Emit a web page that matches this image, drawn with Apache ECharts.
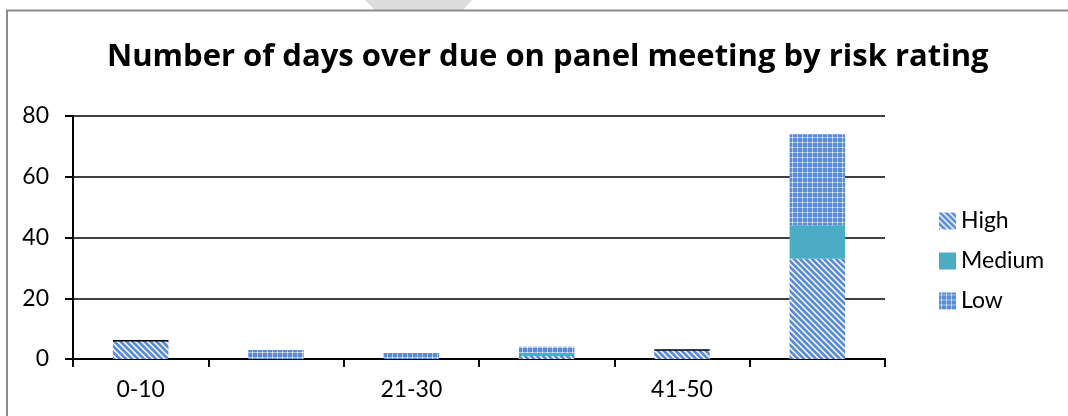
<!DOCTYPE html>
<html>
<head>
<meta charset="utf-8">
<script src="https://cdn.jsdelivr.net/npm/echarts@6/dist/echarts.min.js"></script>
<style>
html,body{margin:0;padding:0;background:#fff;}
#chart{width:1068px;height:416px;}
</style>
</head>
<body>
<div id="chart"></div>
<script>
var categories = ['0-10', '11-20', '21-30', '31-40', '41-50', '51+'];
var highValues = [6, 0, 0, 1, 3, 33];
var mediumValues = [0, 0, 0, 1, 0, 11];
var lowValues = [0, 3, 2, 2, 0, 30];
var yTicks = { min: 0, max: 80, interval: 20 };
var titleText = 'Number of days over due on panel meeting by risk rating';

var BLUE = [88, 140, 216];
function makeTile(size, fn) {
  var c = document.createElement('canvas');
  c.width = size; c.height = size;
  var ctx = c.getContext('2d');
  var img = ctx.createImageData(size, size);
  for (var y = 0; y < size; y++) {
    for (var x = 0; x < size; x++) {
      var t = fn(x, y); // 0 = blue, 1 = white
      var i = (y * size + x) * 4;
      img.data[i] = Math.round(BLUE[0] + (255 - BLUE[0]) * t);
      img.data[i + 1] = Math.round(BLUE[1] + (255 - BLUE[1]) * t);
      img.data[i + 2] = Math.round(BLUE[2] + (255 - BLUE[2]) * t);
      img.data[i + 3] = 255;
    }
  }
  ctx.putImageData(img, 0, 0);
  return c;
}
var stripeTile = makeTile(6, function (x, y) {
  var d = ((x - y) % 6 + 6) % 6;
  return d < 3 ? 0 : (d === 3 || d === 5 ? 0.55 : 1);
});
var dotTile = makeTile(5, function (x, y) {
  if (x === 2 && y === 2) return 1;
  if (x === 2 || y === 2) return 0.5;
  return 0;
});
var highColor = { image: stripeTile, repeat: 'repeat' };
var lowColor = { image: dotTile, repeat: 'repeat' };
var mediumColor = '#4BACC6';

var chart = echarts.init(document.getElementById('chart'), null, { renderer: 'canvas' });
var FONT = 'Lato';
chart.setOption({
  animation: false,
  backgroundColor: '#fff',
  title: {
    text: titleText,
    left: 102,
    top: 37,
    textStyle: { fontFamily: 'Open Sans', fontWeight: 'bold', fontSize: 31, color: '#000' }
  },
  legend: {
    orient: 'vertical',
    left: 934,
    top: 204,
    itemWidth: 17,
    itemHeight: 17,
    itemGap: 16,
    icon: 'rect',
    textStyle: { fontFamily: FONT, fontSize: 23, color: '#000', lineHeight: 24 },
    data: ['High', 'Medium', 'Low']
  },
  grid: { left: 73, right: 183, top: 116, bottom: 57, containLabel: false },
  xAxis: {
    type: 'category',
    data: categories,
    axisLine: { lineStyle: { color: '#000', width: 2 } },
    axisTick: { show: true, interval: 0, length: 8, lineStyle: { color: '#000', width: 2 } },
    axisLabel: { interval: 1, margin: 19, fontFamily: FONT, fontSize: 23, color: '#000' },
    splitLine: { show: false }
  },
  yAxis: {
    type: 'value',
    min: yTicks.min,
    max: yTicks.max,
    interval: yTicks.interval,
    axisLine: { show: true, lineStyle: { color: '#000', width: 2 } },
    axisTick: { show: true, length: 8, lineStyle: { color: '#000', width: 2 } },
    axisLabel: { margin: 24, fontFamily: FONT, fontSize: 23, color: '#000' },
    splitLine: { show: true, lineStyle: { color: '#000', width: 1.5 } }
  },
  series: [
    {
      name: 'High', type: 'bar', stack: 'risk', barWidth: '41%',
      itemStyle: { color: highColor },
      data: highValues
    },
    {
      name: 'Medium', type: 'bar', stack: 'risk',
      itemStyle: { color: mediumColor },
      data: mediumValues.map(function (v, i) {
        return v === 0 && highValues[i] > 0 && lowValues[i] === 0
          ? { value: v, itemStyle: { borderColor: '#000', borderWidth: 1.5 } }
          : v;
      })
    },
    {
      name: 'Low', type: 'bar', stack: 'risk',
      itemStyle: { color: lowColor },
      data: lowValues
    }
  ],
  graphic: [
    {
      type: 'polygon',
      shape: { points: [[365, 0], [472, 0], [463, 10], [375, 10]] },
      style: { fill: '#dcdcdc' },
      silent: true
    },
    {
      type: 'polyline',
      shape: { points: [[7, 416], [7, 10.5], [1068, 10.5]] },
      style: { stroke: '#8c8c8c', lineWidth: 2, fill: null },
      silent: true
    }
  ]
});
</script>
</body>
</html>
